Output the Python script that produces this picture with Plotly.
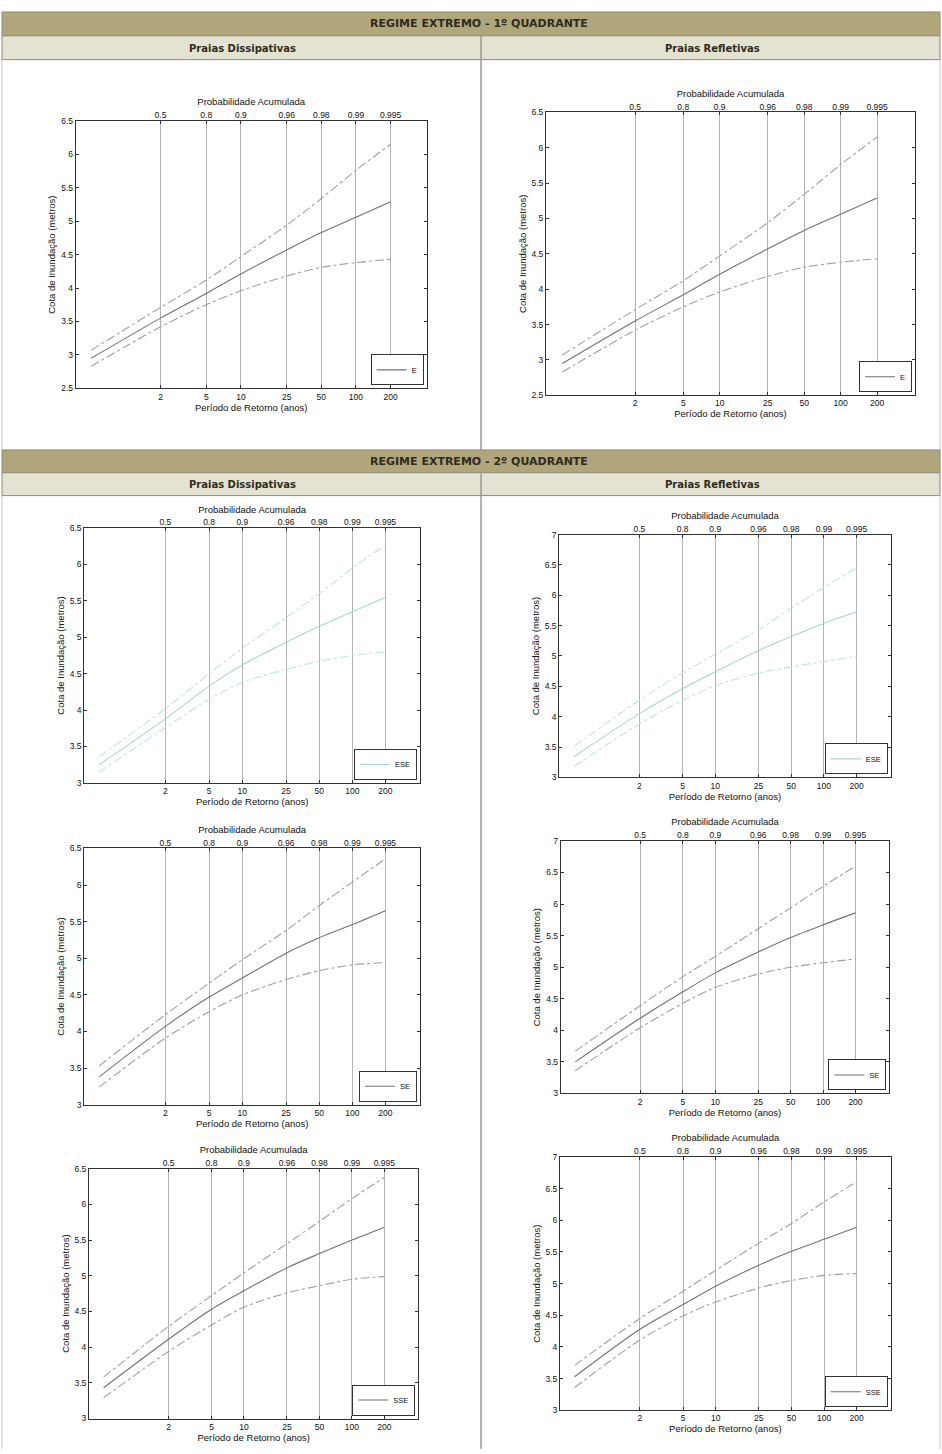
import plotly.graph_objects as go

W, H = 942, 1454

# ---------------- data ----------------
T = [0.5, 2, 5, 10, 25, 50, 100, 200]
T_ticks = [2, 5, 10, 25, 50, 100, 200]
T_tick_labels = ["2", "5", "10", "25", "50", "100", "200"]
prob_labels = ["0.5", "0.8", "0.9", "0.96", "0.98", "0.99", "0.995"]

E_mid = [2.95, 3.55, 3.92, 4.21, 4.57, 4.83, 5.06, 5.29]
E_up = [3.07, 3.71, 4.12, 4.47, 4.94, 5.34, 5.76, 6.15]
E_lo = [2.83, 3.42, 3.75, 3.96, 4.18, 4.31, 4.38, 4.43]

ESE_diss_mid = [3.25, 3.88, 4.33, 4.62, 4.93, 5.15, 5.35, 5.55]
ESE_diss_up = [3.36, 4.02, 4.50, 4.85, 5.27, 5.60, 5.95, 6.27]
ESE_diss_lo = [3.15, 3.76, 4.15, 4.38, 4.56, 4.67, 4.75, 4.80]

ESE_refl_mid = [3.34, 4.05, 4.46, 4.74, 5.09, 5.32, 5.54, 5.73]
ESE_refl_up = [3.51, 4.27, 4.72, 5.03, 5.43, 5.79, 6.13, 6.45]
ESE_refl_lo = [3.18, 3.88, 4.27, 4.51, 4.72, 4.82, 4.91, 4.99]

SE_diss_mid = [3.38, 4.07, 4.47, 4.73, 5.07, 5.28, 5.46, 5.65]
SE_diss_up = [3.53, 4.23, 4.66, 4.98, 5.38, 5.72, 6.04, 6.36]
SE_diss_lo = [3.24, 3.91, 4.27, 4.50, 4.71, 4.83, 4.91, 4.94]

SE_refl_mid = [3.50, 4.19, 4.61, 4.91, 5.24, 5.47, 5.67, 5.86]
SE_refl_up = [3.67, 4.39, 4.85, 5.17, 5.61, 5.94, 6.28, 6.60]
SE_refl_lo = [3.36, 4.04, 4.43, 4.68, 4.89, 5.00, 5.07, 5.13]

SSE_diss_mid = [3.43, 4.11, 4.53, 4.79, 5.11, 5.31, 5.50, 5.68]
SSE_diss_up = [3.58, 4.29, 4.72, 5.04, 5.45, 5.76, 6.08, 6.38]
SSE_diss_lo = [3.29, 3.94, 4.31, 4.56, 4.76, 4.86, 4.95, 4.99]

SSE_refl_mid = [3.53, 4.28, 4.67, 4.96, 5.29, 5.51, 5.70, 5.89]
SSE_refl_up = [3.71, 4.45, 4.88, 5.21, 5.64, 5.95, 6.29, 6.61]
SSE_refl_lo = [3.36, 4.11, 4.49, 4.71, 4.93, 5.05, 5.13, 5.16]

# ---------------- layout helpers ----------------
def px(x):
    return x / W

def py(y):
    return 1 - y / H

GREY_MID = "#727272"
GREY_BND = "#a0a0a0"
TEAL_MID = "#a9d7cd"
TEAL_BND = "#c3e4dd"

FONT = "Liberation Sans, Arial, sans-serif"
HFONT = "DejaVu Sans, Open Sans, sans-serif"

panels = [
    dict(name="E", mid=E_mid, up=E_up, lo=E_lo, xd=(75.7, 426.7), yd=(116.7, 386), yr=(2.5, 6.5), c=(GREY_MID, GREY_BND)),
    dict(name="E", mid=E_mid, up=E_up, lo=E_lo, xd=(546, 915), yd=(108, 393), yr=(2.5, 6.5), c=(GREY_MID, GREY_BND)),
    dict(name="ESE", mid=ESE_diss_mid, up=ESE_diss_up, lo=ESE_diss_lo, xd=(84.3, 420), yd=(526.7, 783.3), yr=(3, 6.5), c=(TEAL_MID, TEAL_BND)),
    dict(name="ESE", mid=ESE_refl_mid, up=ESE_refl_up, lo=ESE_refl_lo, xd=(559.3, 890.7), yd=(533.3, 777.7), yr=(3, 7), c=(TEAL_MID, TEAL_BND)),
    dict(name="SE", mid=SE_diss_mid, up=SE_diss_up, lo=SE_diss_lo, xd=(84.3, 420), yd=(849.3, 1107.3), yr=(3, 6.5), c=(GREY_MID, GREY_BND)),
    dict(name="SE", mid=SE_refl_mid, up=SE_refl_up, lo=SE_refl_lo, xd=(560.7, 889.3), yd=(841.7, 1096), yr=(3, 7), c=(GREY_MID, GREY_BND)),
    dict(name="SSE", mid=SSE_diss_mid, up=SSE_diss_up, lo=SSE_diss_lo, xd=(89, 418.3), yd=(1171.7, 1423.3), yr=(3, 6.5), c=(GREY_MID, GREY_BND)),
    dict(name="SSE", mid=SSE_refl_mid, up=SSE_refl_up, lo=SSE_refl_lo, xd=(560, 890.7), yd=(1160, 1415), yr=(3, 7), c=(GREY_MID, GREY_BND)),
]

XR = [-0.436, 2.615]

fig = go.Figure()
layout = dict(
    width=W, height=H,
    margin=dict(l=0, r=0, t=0, b=0),
    paper_bgcolor="white", plot_bgcolor="white",
    font=dict(family=FONT, size=8, color="#111"),
    showlegend=True,
)

for i, p in enumerate(panels):
    k = i + 1
    xb = 2 * k - 1
    xt = 2 * k
    xb_name = "x" if xb == 1 else f"x{xb}"
    xt_name = f"x{xt}"
    y_name = "y" if k == 1 else f"y{k}"
    leg_name = "legend" if k == 1 else f"legend{k}"
    cm, cb = p["c"]

    fig.add_trace(go.Scatter(x=T, y=p["up"], mode="lines", xaxis=xb_name, yaxis=y_name,
                             line=dict(color=cb, width=1.1, dash="dashdot", shape="spline", smoothing=0.8),
                             showlegend=False, hoverinfo="skip"))
    fig.add_trace(go.Scatter(x=T, y=p["lo"], mode="lines", xaxis=xb_name, yaxis=y_name,
                             line=dict(color=cb, width=1.1, dash="dashdot", shape="spline", smoothing=0.8),
                             showlegend=False, hoverinfo="skip"))
    fig.add_trace(go.Scatter(x=T, y=p["mid"], mode="lines", xaxis=xb_name, yaxis=y_name,
                             line=dict(color=cm, width=1.1, shape="spline", smoothing=0.8),
                             name=p["name"], legend=leg_name, showlegend=True))
    fig.add_trace(go.Scatter(x=T, y=p["mid"], mode="lines", xaxis=xt_name, yaxis=y_name,
                             line=dict(color="rgba(0,0,0,0)", width=0),
                             showlegend=False, hoverinfo="skip"))

    xdom = [px(p["xd"][0]), px(p["xd"][1])]
    ydom = [py(p["yd"][1]), py(p["yd"][0])]

    layout[f"xaxis{'' if xb == 1 else xb}"] = dict(
        type="log", range=XR, domain=xdom, anchor=y_name,
        tickmode="array", tickvals=T_ticks, ticktext=T_tick_labels,
        showgrid=True, gridcolor="#b4b4b4", gridwidth=1.2,
        showline=True, linecolor="#333", linewidth=1, mirror=True,
        ticks="inside", ticklen=3, tickcolor="#333",
        tickfont=dict(size=8.5, family=FONT, color="#111"),
        title=dict(text="Período de Retorno (anos)", font=dict(size=9.5, family=FONT, color="#111"), standoff=2),
        zeroline=False, fixedrange=True,
    )
    layout[f"xaxis{xt}"] = dict(
        type="log", range=XR, domain=xdom, anchor=y_name, overlaying=xb_name, side="top",
        tickmode="array", tickvals=T_ticks, ticktext=prob_labels,
        showgrid=False, showline=False,
        ticks="inside", ticklen=3, tickcolor="#333",
        tickfont=dict(size=8.5, family=FONT, color="#111"),
        title=dict(text="Probabilidade Acumulada", font=dict(size=9.5, family=FONT, color="#111"), standoff=2),
        zeroline=False, fixedrange=True,
    )
    layout[f"yaxis{'' if k == 1 else k}"] = dict(
        range=list(p["yr"]), domain=ydom, anchor=xb_name,
        dtick=0.5, tick0=0,
        showgrid=False, showline=True, linecolor="#333", linewidth=1, mirror="ticks",
        ticks="inside", ticklen=3, tickcolor="#333",
        tickfont=dict(size=8.5, family=FONT, color="#111"),
        title=dict(text="Cota de Inundação (metros)", font=dict(size=9.5, family=FONT, color="#111"), standoff=3),
        zeroline=False, fixedrange=True,
    )
    layout[leg_name] = dict(
        x=px(p["xd"][1] - 3), y=py(p["yd"][1] - 3), xanchor="right", yanchor="bottom",
        xref="paper", yref="paper",
        bgcolor="white", bordercolor="#333", borderwidth=1,
        font=dict(size=7.5, family=FONT, color="#111"),
        itemwidth=30, tracegroupgap=0,
    )

# ---------------- table headers ----------------
HEAD_BG = "#b0a57b"
SUB_BG = "#e4e2d0"
BORDER = "#8f8b78"
shapes = []
annotations = []

def rect(x0, y0, x1, y1, fill, line=BORDER, w=1):
    shapes.append(dict(type="rect", xref="paper", yref="paper",
                       x0=px(x0), x1=px(x1), y0=py(y1), y1=py(y0),
                       fillcolor=fill, line=dict(color=line, width=w), layer="below"))

def vline(x, y0, y1, color="#9a9a9a", w=1.5):
    shapes.append(dict(type="line", xref="paper", yref="paper",
                       x0=px(x), x1=px(x), y0=py(y1), y1=py(y0),
                       line=dict(color=color, width=w), layer="below"))

def label(text, x, y, size, color="#2e2b20"):
    annotations.append(dict(text=f"<b>{text}</b>", x=px(x), y=py(y), xref="paper", yref="paper",
                            showarrow=False, xanchor="center", yanchor="middle",
                            font=dict(size=size, family=HFONT, color=color)))

# section 1
rect(2, 7, 940, 31, HEAD_BG)
rect(2, 31, 940, 55, SUB_BG)
vline(481, 31, 448)
label("REGIME EXTREMO - 1º QUADRANTE", 479, 19, 11)
label("Praias Dissipativas", 242, 43.5, 10)
label("Praias Refletivas", 712, 43.5, 10)

# section 2
rect(2, 448, 940, 471, HEAD_BG)
rect(2, 471, 940, 494, SUB_BG)
vline(481, 471, 1454)
label("REGIME EXTREMO - 2º QUADRANTE", 479, 459.5, 11)
label("Praias Dissipativas", 242, 482.5, 10)
label("Praias Refletivas", 712, 482.5, 10)

# outer borders
vline(2, 55, 448, "#c8c8c8", 1)
vline(940, 55, 448, "#c8c8c8", 1)
vline(2, 494, 1454, "#c8c8c8", 1)
vline(940, 494, 1454, "#c8c8c8", 1)

layout["shapes"] = shapes
layout["annotations"] = annotations

fig.update_layout(**layout)
fig.write_html("out.html",
               config={"displayModeBar": False},
               post_script="document.body.style.margin='0';document.body.style.overflow='hidden';")
